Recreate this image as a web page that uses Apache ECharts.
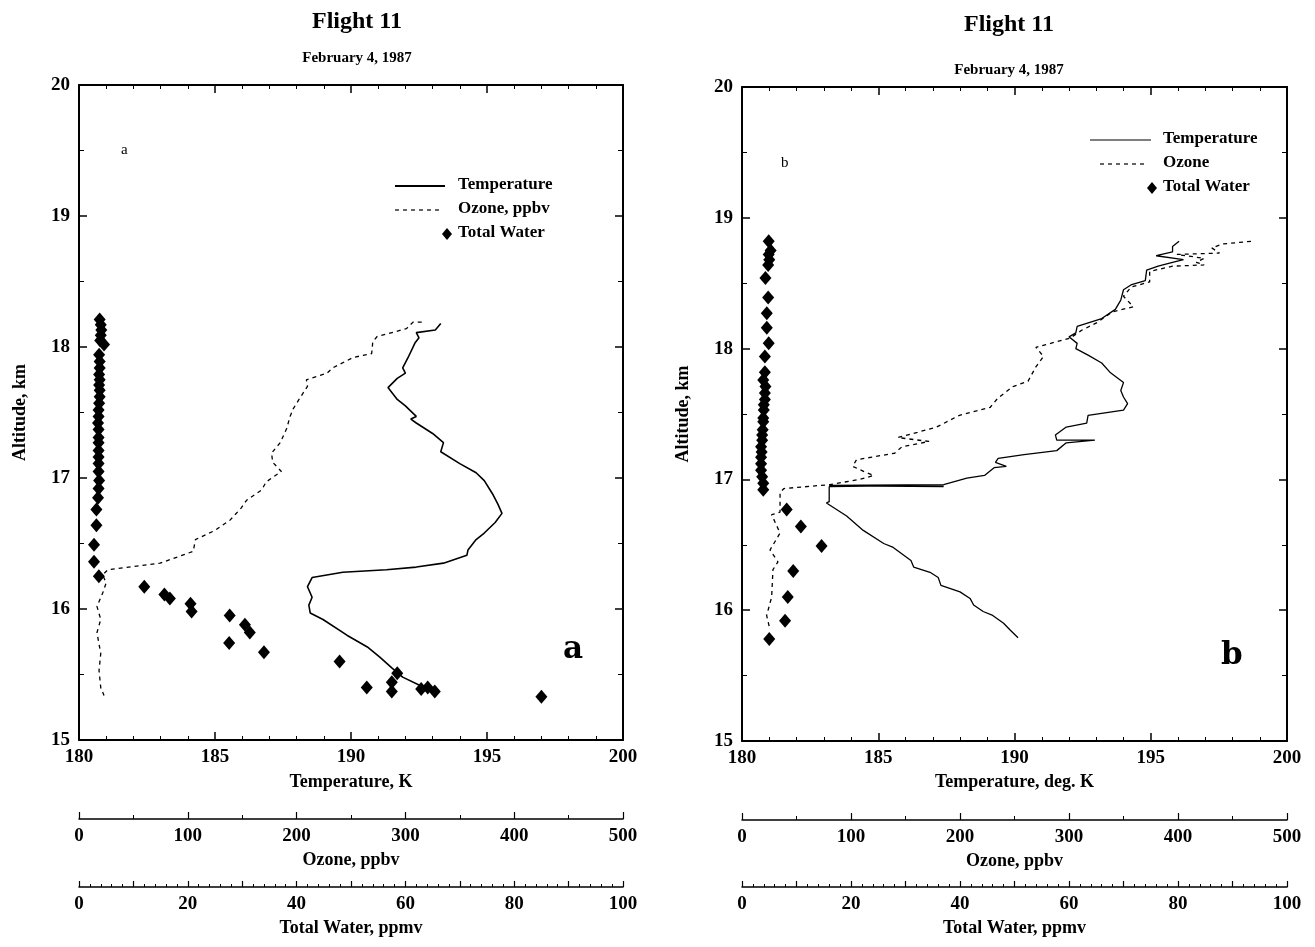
<!DOCTYPE html>
<html>
<head>
<meta charset="utf-8">
<script src="https://cdn.jsdelivr.net/npm/echarts@6/dist/echarts.min.js"></script>
<style>
  html, body { margin: 0; padding: 0; background: #fff; }
  #chart { width: 1315px; height: 947px; }
</style>
</head>
<body>
<div id="chart"></div>
<script>
// ---- Axis ranges / tick labels ----
const tempTicks = [180, 185, 190, 195, 200];
const altTicks = [15, 16, 17, 18, 19, 20];
const ozoneTicks = [0, 100, 200, 300, 400, 500];
const waterTicks = [0, 20, 40, 60, 80, 100];

// ---- Panel a: [temperature K, altitude km] ----
const tempA = [
  [193.3, 18.18], [193.1, 18.13], [192.4, 18.11], [192.5, 18.07], [192.35, 18.03], [192.1, 17.92],
  [191.9, 17.84], [192.0, 17.8], [191.7, 17.76], [191.36, 17.69], [191.7, 17.6], [192.0, 17.55],
  [192.4, 17.47], [192.2, 17.45], [192.4, 17.42], [193.0, 17.34], [193.4, 17.27], [193.3, 17.2],
  [194.0, 17.11], [194.6, 17.04], [194.9, 16.98], [195.2, 16.88], [195.4, 16.80], [195.55, 16.73],
  [195.3, 16.66], [194.9, 16.58], [194.6, 16.53], [194.3, 16.45], [194.26, 16.41], [193.4, 16.35],
  [192.4, 16.32], [191.3, 16.30], [189.7, 16.28], [188.57, 16.24], [188.4, 16.17], [188.57, 16.09],
  [188.45, 16.03], [188.5, 15.97], [188.97, 15.92], [189.85, 15.80], [190.6, 15.71], [191.07, 15.63],
  [191.5, 15.55], [191.9, 15.48], [192.5, 15.42], [193.16, 15.36]
];
// [ozone ppbv, altitude km]
const ozoneA = [
  [315, 18.19], [307, 18.19], [301, 18.14], [274, 18.08], [270, 18.04], [269, 17.95], [252, 17.92],
  [233, 17.84], [228, 17.80], [209, 17.75], [210, 17.70], [203, 17.61], [197, 17.53], [194, 17.47],
  [191, 17.38], [185, 17.27], [177, 17.19], [178, 17.12], [186, 17.05], [172, 16.97], [168, 16.91],
  [154, 16.83], [149, 16.77], [139, 16.68], [125, 16.60], [107, 16.53], [105, 16.44], [74.5, 16.35],
  [26.6, 16.30], [21.7, 16.26], [25, 16.2], [21.7, 16.12], [16.5, 16.02], [20, 15.92], [16.5, 15.82],
  [20, 15.66], [18.4, 15.53], [20, 15.40], [23, 15.34]
];
// [total water ppmv, altitude km]
const waterA = [
  [3.8, 18.21], [4.0, 18.17], [4.1, 18.13], [4.0, 18.09], [3.9, 18.05], [4.6, 18.02], [3.7, 17.94],
  [3.8, 17.89], [3.8, 17.84], [3.7, 17.79], [3.8, 17.75], [3.7, 17.71], [3.8, 17.67], [3.8, 17.62],
  [3.7, 17.57], [3.6, 17.52], [3.6, 17.47], [3.5, 17.42], [3.6, 17.37], [3.6, 17.31], [3.6, 17.27],
  [3.6, 17.21], [3.6, 17.16], [3.6, 17.11], [3.6, 17.05], [3.7, 16.98], [3.6, 16.92], [3.5, 16.85],
  [3.2, 16.76], [3.2, 16.64], [2.76, 16.49], [2.76, 16.36], [3.65, 16.25], [12.0, 16.17], [15.7, 16.11],
  [16.7, 16.08], [20.5, 16.04], [20.7, 15.98], [27.7, 15.95], [30.5, 15.88], [31.4, 15.82], [27.6, 15.74],
  [34.0, 15.67], [47.9, 15.60], [58.5, 15.51], [52.9, 15.40], [57.5, 15.44], [57.5, 15.37], [62.9, 15.39],
  [64.1, 15.40], [65.4, 15.37], [85.0, 15.33]
];

// ---- Panel b ----
const tempB = [
  [196.04, 18.82], [195.8, 18.78], [195.8, 18.74], [195.2, 18.71], [196.2, 18.68], [195.8, 18.66],
  [195.27, 18.63], [194.85, 18.60], [194.8, 18.52], [194.3, 18.49], [194.0, 18.45], [193.9, 18.37],
  [193.7, 18.30], [193.2, 18.23], [192.3, 18.17], [192.25, 18.12], [192.0, 18.09], [192.3, 18.04],
  [192.25, 18.0], [192.7, 17.95], [193.2, 17.89], [193.5, 17.82], [194.0, 17.74], [193.9, 17.68],
  [194.0, 17.63], [194.15, 17.58], [194.0, 17.53], [192.7, 17.49], [192.65, 17.43], [191.9, 17.40],
  [191.5, 17.34], [191.55, 17.30], [192.95, 17.30], [191.9, 17.28], [191.55, 17.22], [190.35, 17.19],
  [189.4, 17.16], [189.3, 17.13], [189.7, 17.10], [189.25, 17.09], [188.9, 17.03], [188.25, 17.01],
  [187.4, 16.96], [183.2, 16.955], [187.4, 16.952], [185.0, 16.948], [187.4, 16.945], [185.0, 16.951],
  [187.3, 16.956], [183.2, 16.944], [183.2, 16.83],
  [183.1, 16.82], [183.84, 16.72], [184.45, 16.61], [185.2, 16.51], [185.55, 16.48],
  [186.2, 16.38], [186.3, 16.33], [186.9, 16.29], [187.2, 16.25], [187.3, 16.19], [188.0, 16.14],
  [188.37, 16.09], [188.5, 16.04], [188.85, 15.99], [189.2, 15.96], [189.6, 15.90], [189.83, 15.85],
  [190.13, 15.79]
];
const ozoneB = [
  [467, 18.82], [441, 18.80], [431, 18.77], [438, 18.73], [399, 18.72], [424, 18.69], [416.7, 18.66],
  [424, 18.64], [395, 18.63], [374, 18.59], [374, 18.51], [357, 18.47], [350, 18.40], [359, 18.32],
  [339.5, 18.28], [326, 18.20], [311.6, 18.14], [301, 18.08], [269.6, 18.01], [276.6, 17.94],
  [269.6, 17.86], [262.4, 17.75], [248.6, 17.71], [234.6, 17.62], [227.6, 17.55], [199.5, 17.49],
  [178.5, 17.40], [161, 17.36], [143, 17.32], [171.6, 17.29], [146.8, 17.25], [140, 17.20], [105, 17.15],
  [101.6, 17.10], [112, 17.06], [120.8, 17.03], [108, 17.0], [80.5, 16.96], [38.5, 16.93], [34.9, 16.90],
  [34.9, 16.75], [27.2, 16.73], [34.9, 16.59], [25.7, 16.46], [33, 16.37], [28.4, 16.31], [27.2, 16.10],
  [22.6, 15.96], [25.7, 15.85]
];
const waterB = [
  [4.9, 18.82], [5.25, 18.75], [4.9, 18.72], [5.0, 18.68], [4.8, 18.64], [4.3, 18.54], [4.8, 18.39],
  [4.55, 18.27], [4.55, 18.16], [4.9, 18.04], [4.2, 17.94], [4.2, 17.82], [3.9, 17.76], [4.3, 17.71],
  [4.2, 17.66], [4.2, 17.61], [4.0, 17.57], [4.0, 17.53], [3.9, 17.47], [3.9, 17.44], [3.8, 17.38],
  [3.7, 17.34], [3.7, 17.30], [3.5, 17.25], [3.6, 17.21], [3.5, 17.17], [3.5, 17.12], [3.5, 17.07],
  [3.7, 17.02], [3.9, 16.97], [3.9, 16.92], [8.2, 16.77], [10.8, 16.64], [14.6, 16.49], [9.4, 16.30],
  [8.4, 16.10], [7.9, 15.92], [5.0, 15.78]
];

// ---- Styling helpers ----
const SERIF = 'Liberation Serif';
const BLACK = '#000';
const tickFont = { fontFamily: SERIF, fontWeight: 'bold', fontSize: 19, color: BLACK };
const nameFont = { fontFamily: SERIF, fontWeight: 'bold', fontSize: 18, color: BLACK };

function range(ticks) {
  return { min: ticks[0], max: ticks[ticks.length - 1], interval: ticks[1] - ticks[0] };
}

function tempAxis(grid, pos, name, gap) {
  const r = range(tempTicks);
  return {
    type: 'value', gridIndex: grid, position: pos, min: r.min, max: r.max, interval: r.interval,
    name: pos === 'bottom' ? name : '', nameLocation: 'middle', nameGap: gap, nameTextStyle: nameFont,
    axisLine: { show: true, onZero: false, lineStyle: { color: BLACK, width: 2 } },
    axisTick: { show: true, inside: true, length: 8, lineStyle: { color: BLACK, width: 1.5 } },
    minorTick: { show: true, splitNumber: 5, length: 4, lineStyle: { color: BLACK, width: 1 } },
    axisLabel: { show: pos === 'bottom', margin: 8, ...tickFont },
    splitLine: { show: false }
  };
}

function altAxis(grid, pos, name) {
  const r = range(altTicks);
  return {
    type: 'value', gridIndex: grid, position: pos, min: r.min, max: r.max, interval: r.interval,
    name: pos === 'left' ? name : '', nameLocation: 'middle', nameGap: 50, nameTextStyle: nameFont,
    axisLine: { show: true, onZero: false, lineStyle: { color: BLACK, width: 2 } },
    axisTick: { show: true, inside: true, length: 8, lineStyle: { color: BLACK, width: 1.5 } },
    minorTick: { show: true, splitNumber: 2, length: 5, lineStyle: { color: BLACK, width: 1 } },
    axisLabel: { show: pos === 'left', margin: 9, ...tickFont },
    splitLine: { show: false }
  };
}

function ozoneAxis(grid, offset) {
  const r = range(ozoneTicks);
  return {
    type: 'value', gridIndex: grid, position: 'bottom', offset: offset,
    min: r.min, max: r.max, interval: r.interval,
    name: 'Ozone, ppbv', nameLocation: 'middle', nameGap: 30, nameTextStyle: nameFont,
    axisLine: { show: true, onZero: false, lineStyle: { color: BLACK, width: 1.5 } },
    axisTick: { show: true, inside: true, length: 7, lineStyle: { color: BLACK, width: 1.2 } },
    minorTick: { show: true, splitNumber: 2, length: 4, lineStyle: { color: BLACK, width: 1 } },
    axisLabel: { margin: 8, ...tickFont },
    splitLine: { show: false }
  };
}

function waterAxis(grid, offset) {
  return {
    type: 'value', gridIndex: grid, position: 'bottom', offset: offset,
    min: waterTicks[0], max: waterTicks[waterTicks.length - 1], interval: 10,
    name: 'Total Water, ppmv', nameLocation: 'middle', nameGap: 31, nameTextStyle: nameFont,
    axisLine: { show: true, onZero: false, lineStyle: { color: BLACK, width: 1.5 } },
    axisTick: { show: true, inside: true, length: 6, lineStyle: { color: BLACK, width: 1.2 } },
    minorTick: { show: true, splitNumber: 5, length: 3, lineStyle: { color: BLACK, width: 1 } },
    axisLabel: {
      margin: 8, ...tickFont,
      formatter: v => (waterTicks.indexOf(v) >= 0 ? String(v) : '')
    },
    splitLine: { show: false }
  };
}

function lineSeries(name, data, xi, yi, dashed, width) {
  return {
    name: name, type: 'line', xAxisIndex: xi, yAxisIndex: yi, data: data,
    symbol: 'none', smooth: false, animation: false,
    lineStyle: { color: BLACK, width: width, type: dashed ? [4, 4] : 'solid' },
    itemStyle: { color: BLACK }
  };
}

function waterSeries(data, xi, yi) {
  return {
    name: 'Total Water', type: 'scatter', xAxisIndex: xi, yAxisIndex: yi, data: data,
    symbol: 'diamond', symbolSize: [12, 14], animation: false,
    itemStyle: { color: BLACK, opacity: 1 }
  };
}

// ---- Key boxes (drawn as plain graphics) ----
const keyFont = 'bold 17px "' + SERIF + '"';
function keyText(text, x, y) {
  return { type: 'text', left: x, top: y - 10, style: { text: text, font: keyFont, fill: BLACK } };
}
function keyLine(x1, x2, y, width, dashed) {
  return {
    type: 'line', shape: { x1: x1, y1: y, x2: x2, y2: y },
    style: { stroke: BLACK, lineWidth: width, lineDash: dashed ? [4, 4] : null }
  };
}
function keyDiamond(cx, cy) {
  return {
    type: 'polygon',
    shape: { points: [[cx, cy - 6], [cx + 5, cy], [cx, cy + 6], [cx - 5, cy]] },
    style: { fill: BLACK }
  };
}

function label(text, x, y, size, weight, family) {
  return {
    type: 'text', left: x, top: y,
    style: { text: text, font: weight + ' ' + size + 'px "' + family + '"', fill: BLACK }
  };
}

const option = {
  backgroundColor: '#fff',
  animation: false,
  title: [
    { text: 'Flight 11', left: 352, top: 5, textAlign: 'center',
      textStyle: { fontFamily: SERIF, fontWeight: 'bold', fontSize: 24, color: BLACK } },
    { text: 'February 4, 1987', left: 352, top: 46, textAlign: 'center',
      textStyle: { fontFamily: SERIF, fontWeight: 'bold', fontSize: 15, color: BLACK } },
    { text: 'Flight 11', left: 1004, top: 8, textAlign: 'center',
      textStyle: { fontFamily: SERIF, fontWeight: 'bold', fontSize: 24, color: BLACK } },
    { text: 'February 4, 1987', left: 1004, top: 58, textAlign: 'center',
      textStyle: { fontFamily: SERIF, fontWeight: 'bold', fontSize: 15, color: BLACK } }
  ],
  grid: [
    { left: 79, top: 85, width: 544, height: 655 },
    { left: 742, top: 87, width: 545, height: 654 }
  ],
  xAxis: [
    tempAxis(0, 'bottom', 'Temperature, K', 33),
    tempAxis(0, 'top', '', 0),
    ozoneAxis(0, 79),
    waterAxis(0, 147),
    tempAxis(1, 'bottom', 'Temperature, deg. K', 31),
    tempAxis(1, 'top', '', 0),
    ozoneAxis(1, 79),
    waterAxis(1, 146)
  ],
  yAxis: [
    altAxis(0, 'left', 'Altitude, km'),
    altAxis(0, 'right', ''),
    altAxis(1, 'left', 'Altitude, km'),
    altAxis(1, 'right', '')
  ],
  series: [
    lineSeries('Temperature', tempA, 0, 0, false, 1.6),
    lineSeries('Ozone, ppbv', ozoneA, 2, 0, true, 1.3),
    waterSeries(waterA, 3, 0),
    lineSeries('Temperature', tempB, 4, 2, false, 1.3),
    lineSeries('Ozone', ozoneB, 6, 2, true, 1.3),
    waterSeries(waterB, 7, 2)
  ],
  graphic: [
    label('a', 121, 143, 15, 'normal', SERIF),
    label('a', 563, 634, 31, 'bold', 'DejaVu Serif'),
    label('b', 781, 156, 15, 'normal', SERIF),
    label('b', 1221, 640, 31, 'bold', 'DejaVu Serif'),
    // panel a key
    keyLine(395, 445, 186, 2, false), keyText('Temperature', 458, 186),
    keyLine(395, 442, 210, 1.2, true), keyText('Ozone, ppbv', 458, 210),
    keyDiamond(447, 234), keyText('Total Water', 458, 234),
    // panel b key
    keyLine(1090, 1151, 140, 1.2, false), keyText('Temperature', 1163, 140),
    keyLine(1100, 1146, 164, 1.2, true), keyText('Ozone', 1163, 164),
    keyDiamond(1152, 188), keyText('Total Water', 1163, 188)
  ]
};

const chart = echarts.init(document.getElementById('chart'), null, { renderer: 'canvas' });
chart.setOption(option);
</script>
</body>
</html>
